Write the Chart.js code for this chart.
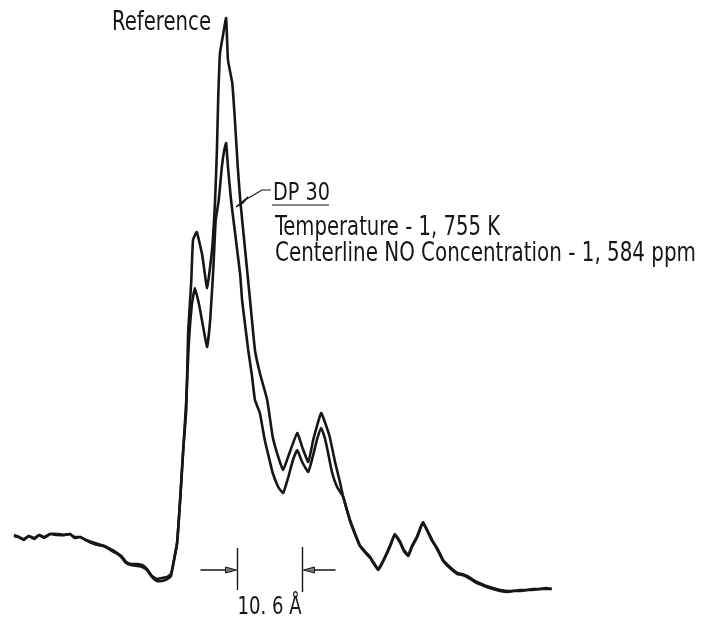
<!DOCTYPE html>
<html>
<head>
<meta charset="utf-8">
<title>NO gamma band spectrum - DP 30</title>
<script src="https://cdn.jsdelivr.net/npm/chart.js@4.4.1/dist/chart.umd.min.js"></script>
<style>
    html, body { margin: 0; padding: 0; background: #fff; }
    #wrap { width: 701px; height: 618px; }
</style>
</head>
<body>
<div id="wrap"><canvas id="spectrum" width="701" height="618"></canvas></div>
<script>
// Wavelength along the trace (Angstrom, from start of scan) and intensity (recorder divisions)
const refWavelength = [
    0.0, 0.8, 1.6, 2.4, 3.3, 4.1, 4.9, 5.9, 7.0, 8.2, 9.1, 9.9, 10.8, 11.7, 12.7, 13.7,
    14.7, 15.7, 16.6, 17.5, 18.3, 19.1, 20.1, 20.9, 21.7, 22.5, 23.3, 24.1, 25.0, 25.6,
    26.1, 26.6, 27.1, 27.6, 28.1, 28.4, 28.9, 29.2, 29.8, 30.7, 31.5, 32.3, 32.8, 33.1,
    33.3, 33.6, 34.1, 34.6, 34.9, 35.6, 36.0, 36.5, 36.9, 37.7, 38.5, 39.3, 40.1, 41.3,
    42.2, 43.1, 43.9, 44.7, 46.2, 47.0, 48.0, 48.8, 50.1, 50.7, 51.5, 52.4, 53.2, 53.7,
    54.8, 55.6, 56.4, 57.2, 58.1, 58.7, 59.4, 60.0, 60.8, 61.5, 62.1, 63.0, 63.6, 64.3,
    64.9, 65.7, 66.2, 66.7, 67.4, 68.2, 69.0, 70.0, 71.1, 72.3, 73.1, 73.9, 74.7, 75.5,
    76.3, 77.1, 78.1, 79.3, 80.4, 81.4, 82.5, 83.7, 84.6, 85.8, 86.8, 87.7
];
const refIntensity = [
    6.5, 6.3, 6.1, 6.4, 6.2, 6.5, 6.3, 6.6, 6.6, 6.5, 6.6, 6.3, 6.3, 6.0, 5.8, 5.6,
    5.4, 5.1, 4.8, 4.4, 3.8, 3.6, 3.6, 3.5, 3.1, 2.4, 2.1, 2.2, 2.3, 2.6,
    4.0, 5.7, 10.0, 15.0, 19.0, 26.7, 31.7, 36.0, 36.8, 34.5, 31.2, 35.0, 40.0, 45.0,
    50.0, 54.7, 56.5, 58.2, 54.0, 51.7, 48.3, 43.3, 40.0, 35.0, 30.0, 25.0, 22.7, 20.0,
    16.3, 14.3, 13.0, 14.3, 16.7, 15.3, 13.8, 16.0, 18.7, 17.8, 16.3, 13.7, 11.7, 10.3,
    8.0, 6.7, 5.5, 4.9, 4.3, 3.7, 3.1, 3.7, 4.7, 5.7, 6.6, 5.8, 5.0, 4.5,
    5.4, 6.3, 7.1, 7.8, 7.0, 6.0, 5.2, 4.0, 3.3, 2.7, 2.6, 2.4, 2.1, 1.8,
    1.6, 1.4, 1.2, 1.0, 0.9, 0.9, 1.0, 1.0, 1.1, 1.1, 1.2, 1.1
];

const dpWavelength = [
    0.0, 0.8, 1.6, 2.4, 3.3, 4.1, 4.9, 5.9, 7.0, 8.2, 9.1, 9.9, 10.8, 11.7, 12.7, 13.7,
    14.7, 15.7, 16.6, 17.5, 18.3, 19.1, 20.1, 20.9, 21.7, 22.5, 23.3, 24.1, 25.0, 25.6,
    26.1, 26.6, 27.1, 27.6, 28.1, 28.5, 29.0, 29.5, 30.2, 30.8, 31.5, 32.0, 32.5, 32.9,
    33.4, 33.9, 34.3, 34.6, 34.9, 35.4, 35.9, 36.4, 36.9, 37.2, 37.7, 38.2, 38.8, 39.3,
    40.1, 40.9, 41.6, 42.2, 43.1, 43.9, 44.7, 45.5, 46.2, 47.0, 48.0, 48.8, 49.4, 50.1,
    50.7, 51.2, 51.9, 52.7, 53.7,
    54.8, 55.6, 56.4, 57.2, 58.1, 58.7, 59.4, 60.0, 60.8, 61.5, 62.1, 63.0, 63.6, 64.3,
    64.9, 65.7, 66.2, 66.7, 67.4, 68.2, 69.0, 70.0, 71.1, 72.3, 73.1, 73.9, 74.7, 75.5,
    76.3, 77.1, 78.1, 79.3, 80.4, 81.4, 82.5, 83.7, 84.6, 85.8, 86.8, 87.7
];
const dpIntensity = [
    6.4, 6.3, 6.0, 6.4, 6.1, 6.5, 6.2, 6.6, 6.5, 6.5, 6.6, 6.2, 6.3, 6.0, 5.7, 5.5,
    5.4, 5.0, 4.7, 4.3, 3.7, 3.5, 3.4, 3.3, 3.0, 2.3, 1.9, 1.9, 2.1, 2.4,
    4.0, 5.7, 10.0, 15.0, 20.0, 25.5, 29.5, 31.2, 29.5, 27.5, 25.3, 28.0, 33.0, 38.0,
    40.0, 43.3, 45.0, 45.7, 43.3, 40.0, 37.5, 35.0, 32.5, 30.0, 27.5, 25.0, 22.5, 20.0,
    18.7, 16.0, 14.2, 12.7, 11.3, 10.7, 12.2, 14.0, 15.0, 13.8, 12.8, 14.5, 16.0, 17.2,
    16.2, 14.8, 12.7, 11.3, 10.3,
    7.9, 6.6, 5.4, 4.8, 4.2, 3.6, 3.0, 3.6, 4.6, 5.6, 6.5, 5.7, 4.9, 4.4,
    5.3, 6.2, 7.0, 7.7, 6.9, 5.9, 5.1, 3.9, 3.2, 2.6, 2.5, 2.3, 2.0, 1.7,
    1.5, 1.3, 1.1, 0.9, 0.8, 0.9, 0.9, 1.0, 1.0, 1.1, 1.1, 1.1
];

// Resolution marker under the bands
const markerStart = 36.4;   // Angstrom
const markerWidth = 10.6;   // Angstrom
const markerLabel = '10. 6 Å';

const refLabel = 'Reference';
const dpLabel = 'DP 30';
const noteLines = ['Temperature - 1, 755 K', 'Centerline NO Concentration - 1, 584 ppm'];

const INK = '#161616';
const FONT = '"Liberation Sans Narrow", "DejaVu Sans Condensed", "Liberation Sans", sans-serif';

function toPoints(xs, ys) {
    return xs.map((x, i) => ({ x: x, y: ys[i] }));
}

// Draw text squeezed/stretched to a target width (the original lettering is condensed)
function fitText(ctx, text, left, baseline, width, size) {
    ctx.save();
    ctx.font = size + 'px ' + FONT;
    const natural = ctx.measureText(text).width;
    ctx.translate(left, baseline);
    ctx.scale(width / natural, 1);
    ctx.fillText(text, 0, 0);
    ctx.restore();
}

function arrowHead(ctx, tipX, y, dir) {
    // dir = +1 points right, -1 points left
    ctx.beginPath();
    ctx.moveTo(tipX, y);
    ctx.lineTo(tipX - dir * 11, y - 3);
    ctx.lineTo(tipX - dir * 11, y + 3);
    ctx.closePath();
    ctx.fillStyle = '#777';
    ctx.fill();
    ctx.strokeStyle = INK;
    ctx.lineWidth = 1;
    ctx.stroke();
}

const annotations = {
    id: 'annotations',
    afterDraw(chart) {
        const ctx = chart.ctx;
        const xs = chart.scales.x;
        ctx.save();
        ctx.fillStyle = INK;
        ctx.textBaseline = 'alphabetic';

        fitText(ctx, refLabel, 112, 30, 99, 26);
        fitText(ctx, dpLabel, 273, 200, 57, 24);
        fitText(ctx, noteLines[0], 275, 235, 225, 26);
        fitText(ctx, noteLines[1], 275, 261, 421, 26);

        // underline + leader for DP 30
        ctx.strokeStyle = INK;
        ctx.lineWidth = 1.2;
        ctx.beginPath();
        ctx.moveTo(272, 205);
        ctx.lineTo(329, 205);
        ctx.stroke();
        ctx.beginPath();
        ctx.moveTo(271, 190);
        ctx.lineTo(262, 190);
        ctx.lineTo(245, 200);
        ctx.stroke();
        ctx.beginPath();
        ctx.moveTo(248, 197);
        ctx.lineTo(236, 207);
        ctx.lineTo(243, 203);
        ctx.closePath();
        ctx.fillStyle = '#777';
        ctx.fill();
        ctx.stroke();

        // 10.6 A resolution marker
        const x1 = Math.round(xs.getPixelForValue(markerStart)) + 0.5;
        const x2 = Math.round(xs.getPixelForValue(markerStart + markerWidth)) + 0.5;
        ctx.lineWidth = 1.4;
        ctx.beginPath();
        ctx.moveTo(x1, 548);
        ctx.lineTo(x1, 590);
        ctx.moveTo(x2, 547);
        ctx.lineTo(x2, 592);
        ctx.moveTo(x1 - 37, 570);
        ctx.lineTo(x1 - 8, 570);
        ctx.moveTo(x2 + 33, 570);
        ctx.lineTo(x2 + 8, 570);
        ctx.stroke();
        arrowHead(ctx, x1 - 1, 570, 1);
        arrowHead(ctx, x2 + 1, 570, -1);

        ctx.fillStyle = INK;
        fitText(ctx, markerLabel, x1, 614, x2 - x1 - 1, 24);
        ctx.restore();
    }
};

const ctx = document.getElementById('spectrum').getContext('2d');
new Chart(ctx, {
    type: 'line',
    data: {
        datasets: [
            {
                label: refLabel,
                data: toPoints(refWavelength, refIntensity),
                borderColor: INK,
                borderWidth: 2.6,
                tension: 0.12,
                pointRadius: 0,
                fill: false
            },
            {
                label: dpLabel,
                data: toPoints(dpWavelength, dpIntensity),
                borderColor: INK,
                borderWidth: 2.6,
                tension: 0.12,
                pointRadius: 0,
                fill: false
            }
        ]
    },
    options: {
        responsive: false,
        devicePixelRatio: 1,
        animation: false,
        layout: { padding: 0 },
        plugins: {
            legend: { display: false },
            tooltip: { enabled: false }
        },
        scales: {
            x: { type: 'linear', display: false, min: -2.28, max: 112.05 },
            y: { type: 'linear', display: false, min: -1.8, max: 60 }
        }
    },
    plugins: [annotations]
});
</script>
</body>
</html>
